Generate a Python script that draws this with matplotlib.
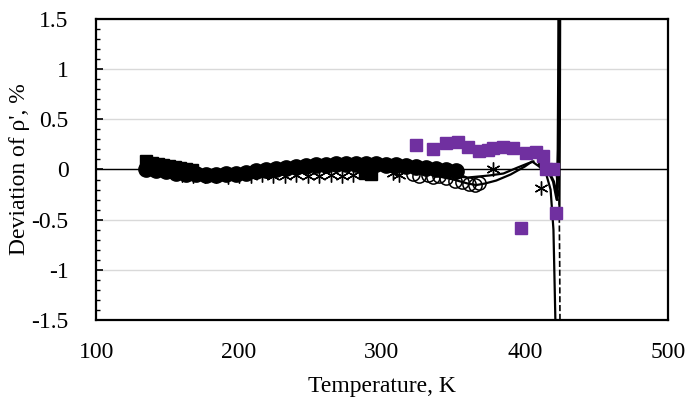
import matplotlib
matplotlib.use("Agg")
import matplotlib.pyplot as plt
import numpy as np

plt.rcParams['font.family'] = ['Liberation Serif', 'DejaVu Serif']

# Filled circles
circ_T = [135, 142, 149, 156, 163, 170, 177, 184, 191, 198, 205, 212, 219, 226, 233, 240, 247, 254,
          261, 268, 275, 282, 289, 296, 303, 310, 317, 324, 331, 338, 345, 352]
circ_v = [0.0, -0.01, -0.02, -0.03, -0.04, -0.04, -0.05, -0.05, -0.04, -0.04, -0.03, -0.02, -0.01, 0.0,
          0.01, 0.02, 0.03, 0.04, 0.04, 0.05, 0.05, 0.05, 0.05, 0.05, 0.04, 0.04, 0.03, 0.02, 0.01, 0.0, -0.01, -0.02]

# Filled black squares
sq_T = [135, 139, 143, 147, 151, 155, 159, 163, 167, 288, 292]
sq_v = [0.08, 0.06, 0.05, 0.04, 0.03, 0.02, 0.01, 0.0, -0.01, -0.03, -0.04]

# Asterisks
star_T = [160, 168, 176, 184, 192, 200, 208, 216, 224, 232, 240, 248, 256, 264, 272, 280, 308, 312, 378, 411]
star_v = [-0.05, -0.06, -0.06, -0.06, -0.07, -0.06, -0.06, -0.05, -0.06, -0.06, -0.05, -0.06, -0.06, -0.055,
          -0.06, -0.05, -0.035, -0.055, 0.0, -0.18]

# Open circles
oc_T = [322, 326, 332, 336, 340, 345, 351, 356, 361, 365, 368]
oc_v = [-0.04, -0.06, -0.05, -0.07, -0.06, -0.08, -0.11, -0.12, -0.14, -0.15, -0.13]

# Purple squares
pu_T = [324, 336, 345, 353, 360, 368, 374, 378, 385, 392, 397, 401, 408, 413, 415, 420, 422]
pu_v = [0.24, 0.20, 0.26, 0.27, 0.22, 0.18, 0.19, 0.21, 0.22, 0.21, -0.58, 0.16, 0.17, 0.13, 0.0, 0.0, -0.43]

# Lines
lineA_T = [340, 350, 360, 366, 372, 380, 390, 400, 405, 410, 415, 418, 420, 421.5]
lineA_v = [-0.07, -0.1, -0.14, -0.155, -0.14, -0.11, -0.05, 0.03, 0.08, 0.03, -0.05, -0.2, -0.6, -1.6]
lineB_T = [345, 360, 375, 385, 395, 402, 406]
lineB_v = [-0.06, -0.08, -0.06, -0.04, 0.02, 0.06, 0.08]
lineC_T = [410, 416, 420, 422.5, 423.3, 423.6, 423.8]
lineC_v = [0.05, 0.0, -0.12, -0.3, 0.2, 0.9, 1.6]
lineD_T = [418, 422, 424.0, 424.4, 424.6]
lineD_v = [0.04, -0.05, -0.3, -1.0, -1.6]
lineE_T = [424.2, 424.5, 424.7]
lineE_v = [-0.4, 0.5, 1.6]

fig = plt.figure(figsize=(6.87, 4.05), dpi=100)
ax = fig.add_axes([0.140, 0.21, 0.832, 0.743])

ax.set_xlim(100, 500)
ax.set_ylim(-1.5, 1.5)
ax.set_yticks(np.arange(-1.5, 1.51, 0.5))
ax.set_yticklabels(['-1.5', '-1', '-0.5', '0', '0.5', '1', '1.5'])
ax.set_yticks(np.arange(-1.5, 1.51, 0.1), minor=True)
ax.set_xticks([100, 200, 300, 400, 500])
ax.grid(axis='y', which='major', color='#D9D9D9', linewidth=1.0, zorder=0)
ax.axhline(0, color='black', linewidth=1.0, zorder=2)

ax.tick_params(axis='y', which='major', direction='in', length=5, width=1.2, pad=20, labelsize=17)
ax.tick_params(axis='y', which='minor', direction='in', length=3, width=1.0)
ax.tick_params(axis='x', which='major', length=0, pad=16, labelsize=17)
for s in ax.spines.values():
    s.set_linewidth(1.6)
    s.set_color('black')

ax.plot(lineA_T, lineA_v, color='black', linewidth=1.6, zorder=3)
ax.plot(lineB_T, lineB_v, color='black', linewidth=1.6, zorder=3)
ax.plot(lineC_T, lineC_v, color='black', linewidth=2.2, zorder=3)
ax.plot(lineD_T, lineD_v, color='black', linewidth=1.2, linestyle='--', zorder=3)
ax.plot(lineE_T, lineE_v, color='black', linewidth=1.6, zorder=3)

ax.plot(star_T, star_v, linestyle='none', marker=(6, 2, 0), markersize=10, markeredgecolor='black',
        markeredgewidth=1.0, zorder=4)
ax.plot(oc_T, oc_v, linestyle='none', marker='o', markersize=9.5, markerfacecolor='none',
        markeredgecolor='black', markeredgewidth=1.1, zorder=4)
ax.plot(circ_T, circ_v, linestyle='none', marker='o', markersize=11, color='black', zorder=5)
ax.plot(sq_T, sq_v, linestyle='none', marker='s', markersize=8.5, color='black', zorder=5)
ax.plot(pu_T, pu_v, linestyle='none', marker='s', markersize=9, color='#7030A0', zorder=6)

ax.set_ylabel("Deviation of ρ', %", fontsize=17, labelpad=1)
ax.set_xlabel("Temperature, K", fontsize=17, labelpad=9)

fig.savefig("out.png", dpi=100)
